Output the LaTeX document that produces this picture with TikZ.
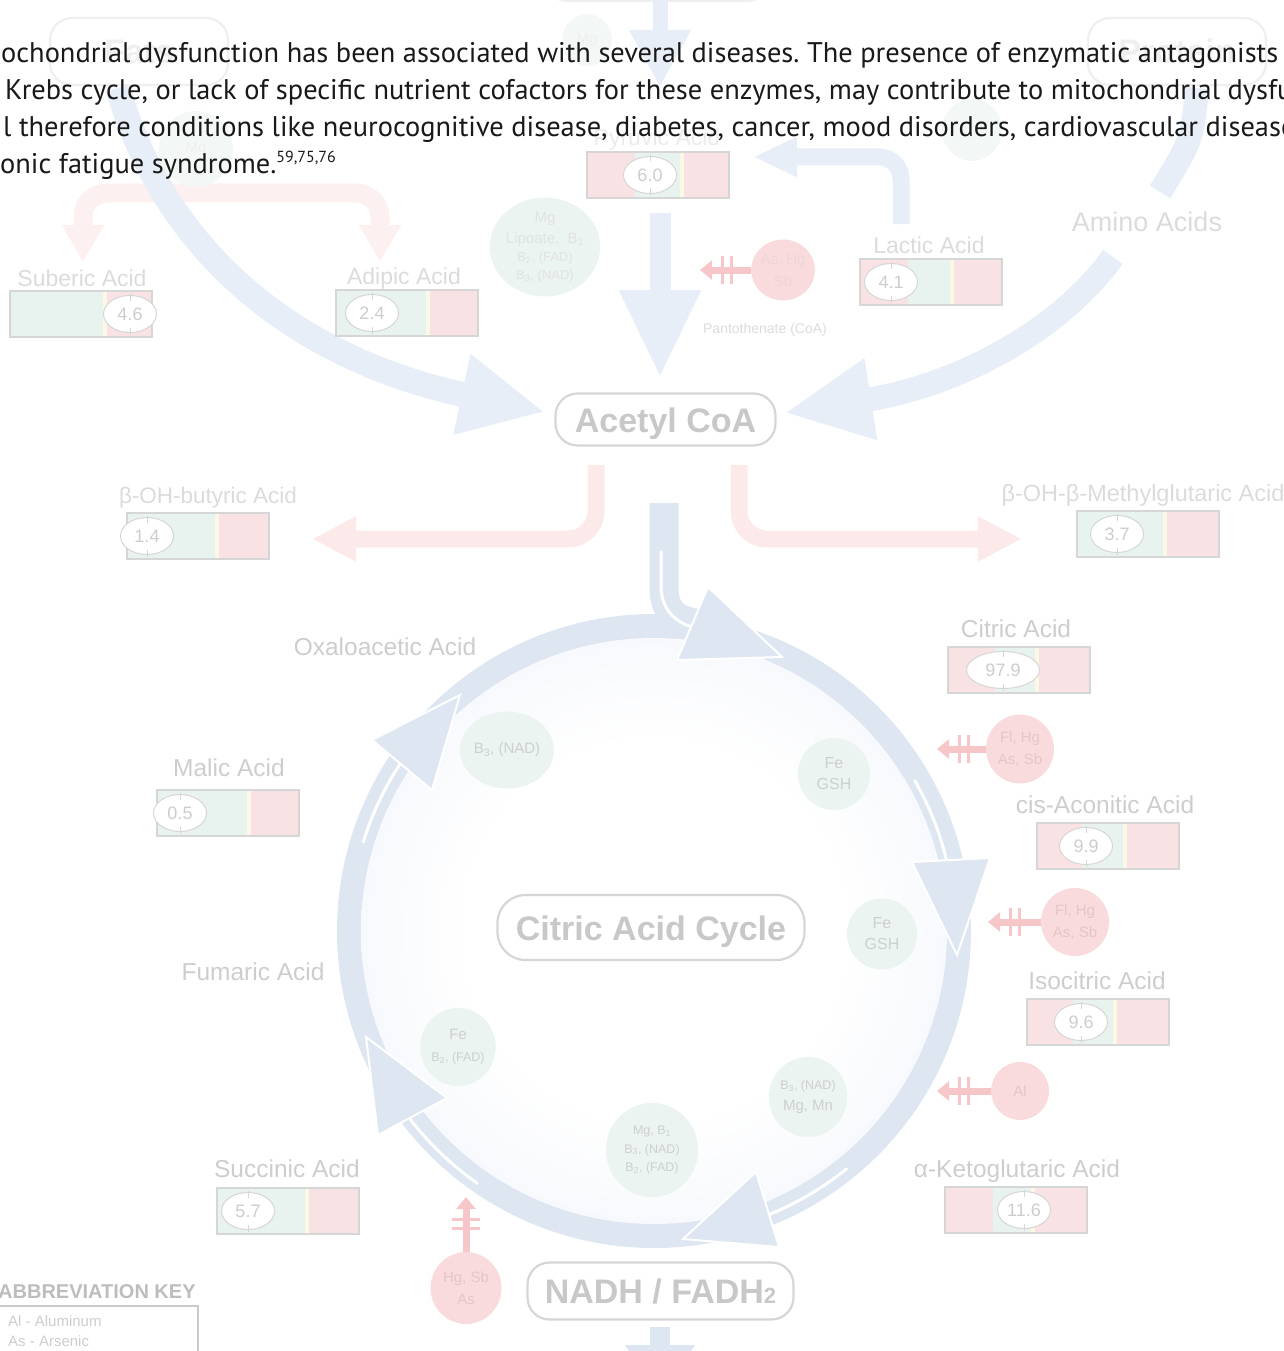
\documentclass[tikz,border=0pt]{standalone}
\usepackage{fontspec}
\setmainfont{Liberation Sans}
\newfontfamily\bodyfont{PT Sans}
\usetikzlibrary{arrows.meta,shapes.geometric}
\frenchspacing

\definecolor{labgray}{HTML}{CDCDCD}
\definecolor{palelab}{HTML}{DBDBDB}
\definecolor{headgray}{HTML}{C8C8C8}
\definecolor{boxline}{HTML}{D6D6D6}
\definecolor{toplight}{HTML}{EFEFEF}
\definecolor{ringblue}{HTML}{DEE6F2}
\definecolor{pathblue}{HTML}{E8EEF7}
\definecolor{pathpink}{HTML}{FCEAEB}
\definecolor{barpink}{HTML}{F9E2E3}
\definecolor{bargreen}{HTML}{E8F3F0}
\definecolor{barstrip}{HTML}{FBF8E6}
\definecolor{cofgreen}{HTML}{EBF4F1}
\definecolor{coftext}{HTML}{CFCFCF}
\definecolor{inhpink}{HTML}{FADBDD}
\definecolor{inhtext}{HTML}{E5C5C7}
\definecolor{inhred}{HTML}{F6C6C9}
\definecolor{cyclefill}{HTML}{E3E9F5}
\definecolor{keygray}{HTML}{BDBDBD}

\pgfdeclareradialshading{cycleglow}{\pgfpoint{0bp}{0bp}}{color(0bp)=(white); color(16bp)=(white); color(50bp)=(cyclefill)}

% value bar: name, top-left corner, green span, oval position, value
\def\acidbox#1(#2,#3)[#4:#5]#6#7{%
  \fill[barpink] (#2,#3) rectangle ++(142,46);
  \fill[bargreen] (#2+#4,#3) rectangle (#2+#5,#3+46);
  \fill[barstrip] (#2+#5,#3) rectangle (#2+#5+4,#3+46);
  \draw[boxline, line width=1.3pt] (#2,#3) rectangle ++(142,46);
  \node[valoval] (#1-v) at (#2+#6,#3+23) {#7};
  \draw[boxline, line width=0.8pt] (#2+#6,#3+2.5) -- ++(0,7) (#2+#6,#3+43.5) -- ++(0,-7);
}
% double bar across an inhibitor arrow, at its tip
\def\blockbars(#1)#2{\draw[blockbar, shift={(#1)}, rotate=#2] (22,-14) -- (22,14) (31,-14) -- (31,14);}

\begin{document}
\begin{tikzpicture}[x=1pt, y=-1pt,
  acidlabel/.style={anchor=base, text=labgray, inner sep=0pt, font=\fontsize{24.5}{28}\selectfont},
  valoval/.style={ellipse, draw=boxline, fill=white, line width=1pt, minimum width=53pt, minimum height=37pt, inner sep=0pt, text=labgray, font=\fontsize{18}{20}\selectfont},
  cofactor/.style={ellipse, fill=cofgreen, text=coftext, align=center, inner sep=0pt, font=\fontsize{15}{21}\selectfont},
  toxin/.style={ellipse, fill=inhpink, text=inhtext, align=center, inner sep=0pt, font=\fontsize{15}{22}\selectfont},
  header/.style={draw=boxline, line width=2.2pt, rounded corners=22pt, fill=white, text=headgray, inner sep=0pt, text height=25pt, text depth=0pt, font=\bfseries\fontsize{34}{40}\selectfont},
  blueway/.style={draw=pathblue, line width=#1},
  pinkway/.style={draw=pathpink, line width=17pt, rounded corners=28pt},
  block/.style={draw=inhred, line width=7pt, -{Triangle[length=12pt,width=19pt]}},
  blockbar/.style={draw=inhred, line width=3pt},
  ringtip/.style={fill=ringblue, draw=white, line width=2pt, line join=miter},
  glint/.style={draw=white, line width=3pt, line cap=round},
  bodytext/.style={anchor=base west, inner sep=0pt, text=black!90, font=\bodyfont\fontsize{28.4}{34}\selectfont}]
\useasboundingbox (0,0) rectangle (1284,1351);
\clip (0,0) rectangle (1284,1351);

%%%%% START %%%%%

% top row, faded under the text
\node[header, draw=toplight, text=toplight, minimum width=178pt, minimum height=67pt] (fats) at (139,51.5) {Fats};
\node[header, draw=toplight, text=toplight, minimum width=178pt, minimum height=67pt] (protein) at (1177,51.5) {Protein};
\draw[toplight, line width=2pt, rounded corners=22pt] (545,-70) rectangle (770,1);

\coordinate (glu-out) at (660,-30);
\coordinate (glu-tip) at (660,87);
\draw[blueway=15pt, -{Triangle[length=57pt,width=58pt]}] (glu-out) -- (glu-tip);
\node[cofactor, fill=cofgreen!60, text=toplight, minimum width=50pt, minimum height=52pt] (mg-top) at (587,40) {Mg};

% fatty acid side branches
\coordinate (sub-in) at (83,262);
\coordinate (adi-in) at (380,262);
\draw[pinkway, draw=pathpink!70!white, line width=19pt, rounded corners=24pt, {Triangle[length=37pt,width=40pt]}-{Triangle[length=37pt,width=40pt]}] (sub-in) -- (83,193) -- (380,193) -- (adi-in);

\coordinate (fats-out) at (118,88);
\coordinate (acetyl-left) at (545,412);
\draw[blueway=25pt, -{Triangle[length=85pt,width=76pt]}] (fats-out) .. controls (165,255) and (300,360) .. (acetyl-left);
\node[cofactor, fill=cofgreen!60, text=toplight, minimum width=74pt, minimum height=76pt] (mg-left) at (196,149) {Mg};

\coordinate (protein-out) at (1197,88);
\coordinate (amino-in) at (1160,192);
\draw[blueway=24pt] (protein-out) .. controls (1192,140) .. (amino-in);
\node[cofactor, fill=cofgreen!60, minimum width=60pt, minimum height=62pt] (mg-right) at (972,130) {};
\node[acidlabel, text=palelab, font=\fontsize{27}{30}\selectfont] (amino) at (1147,231) {Amino Acids};
\coordinate (amino-out) at (1113,257);
\coordinate (acetyl-right) at (784,413);
\draw[blueway=24pt, -{Triangle[length=88pt,width=76pt]}] (amino-out) .. controls (1060,330) and (960,385) .. (acetyl-right);

% pyruvic and lactic acid
\node[acidlabel, text=toplight!80!palelab, font=\fontsize{23}{28}\selectfont] (pyruvic) at (657,146) {Pyruvic Acid};
\acidbox{pyruvic}(587,152)[48:93]{63}{6.0}
\coordinate (lactic-up) at (901,224);
\coordinate (pyr-in) at (753,157);
\draw[blueway=17pt, rounded corners=22pt, -{Triangle[length=44pt,width=37pt]}] (lactic-up) |- (pyr-in);
\node[acidlabel, text=palelab, font=\fontsize{23}{28}\selectfont] (lactic) at (929,253) {Lactic Acid};
\acidbox{lactic}(860,259)[48:90]{31}{4.1}

\coordinate (pyr-out) at (660,213);
\coordinate (acetyl-top) at (660,378);
\draw[blueway=21pt, -{Triangle[length=88pt,width=76pt]}] (pyr-out) -- (acetyl-top);

\node[cofactor, minimum width=98pt, minimum height=98pt, text=coftext!60!white] (lipoate) at (545,247)
  {Mg\\Lipoate,\ \ B\textsubscript{1}\\[-3pt]{\fontsize{13}{18}\selectfont B\textsubscript{2}, (FAD)}\\[-3pt]{\fontsize{13}{18}\selectfont B\textsubscript{3}, (NAD)}};
\node[toxin, minimum width=61pt, minimum height=61pt, text=inhtext!70!white] (ashg) at (783,270) {As, Hg\\Sb};
\coordinate (ashg-tip) at (700,270);
\draw[block] (ashg) -- (ashg-tip);
\blockbars(ashg-tip){0}
\node[text=palelab, inner sep=0pt, font=\fontsize{14}{16}\selectfont] (coa) at (765,330) {Pantothenate (CoA)};

\node[acidlabel, text=palelab, font=\fontsize{23}{28}\selectfont] (suberic) at (82,286) {Suberic Acid};
\acidbox{suberic}(10,291)[0:93]{120}{4.6}
\node[acidlabel, text=palelab, font=\fontsize{23}{28}\selectfont] (adipic) at (404,284) {Adipic Acid};
\acidbox{adipic}(336,290)[0:90]{36}{2.4}

% acetyl CoA and ketone branches
\node[header, minimum width=220pt, minimum height=52pt] (acetyl) at (665.5,419.5) {Acetyl CoA};
\coordinate (acetyl-sw) at (596,465);
\coordinate (acetyl-se) at (739,465);
\coordinate (butyric-in) at (312,539);
\coordinate (hmg-in) at (1022,539);
\draw[pinkway, -{Triangle[length=44pt,width=42pt]}] (acetyl-sw) |- (butyric-in);
\draw[pinkway, -{Triangle[length=44pt,width=42pt]}] (acetyl-se) |- (hmg-in);
\node[acidlabel, font=\fontsize{22.5}{28}\selectfont, text=palelab] (butyric) at (208,503) {β-OH-butyric Acid};
\acidbox{butyric}(127,513)[0:88]{20}{1.4}
\node[acidlabel, font=\fontsize{23.5}{28}\selectfont, text=palelab] (hmg) at (1143,501) {β-OH-β-Methylglutaric Acid};
\acidbox{hmg}(1077,511)[0:86]{40}{3.7}

% the cycle
\coordinate (cyc) at (654,931);
\fill[ringblue] (cyc) circle (317);
\shade[shading=cycleglow] (cyc) circle (293);
\coordinate (cyc-entry) at (664,503);
\draw[ringblue, line width=29pt] (cyc-entry) -- (664,588) .. controls (664,612) and (676,621) .. (702,624);
\draw[glint] (661,552) -- (661,588) .. controls (662,610) and (676,624) .. (697,628);
\draw[glint] ([shift={(-163:304)}]cyc) arc[start angle=-163, end angle=-146, radius=304];
\draw[glint] ([shift={(-30:301)}]cyc) arc[start angle=-30, end angle=-10, radius=301];
\draw[glint] ([shift={(51:306)}]cyc) arc[start angle=51, end angle=68, radius=306];
\draw[glint] ([shift={(125:308)}]cyc) arc[start angle=125, end angle=144, radius=308];
\filldraw[ringtip] (708,587) -- (782,657) -- (677,660) -- cycle;
\filldraw[ringtip] (912,862) -- (990,858) -- (957,955) -- cycle;
\filldraw[ringtip] (756,1172) -- (779,1247) -- (683,1239) -- cycle;
\filldraw[ringtip] (447,1098) -- (378,1135) -- (366,1037) -- cycle;
\filldraw[ringtip] (372,740) -- (432,790) -- (460,695) -- cycle;
\node[header, minimum width=307pt, minimum height=65pt, rounded corners=28pt] (cycle) at (651,927.5) {Citric Acid Cycle};

% cofactors inside the ring
\node[cofactor, minimum width=74pt, minimum height=77pt] (b3nad) at (507,750) {B\textsubscript{3}, (NAD)};
\node[cofactor, minimum width=72pt, minimum height=72pt, font=\fontsize{16}{21}\selectfont] (fegsh-a) at (834,774) {Fe\\GSH};
\node[cofactor, minimum width=70pt, minimum height=71pt, font=\fontsize{16}{21}\selectfont] (fegsh-b) at (882,934) {Fe\\GSH};
\node[cofactor, minimum width=78pt, minimum height=80pt] (mgmn) at (808,1097) {{\fontsize{12.5}{16}\selectfont B\textsubscript{3}, (NAD)}\\Mg, Mn};
\node[cofactor, minimum width=92pt, minimum height=94pt, font=\fontsize{12.5}{18.5}\selectfont] (mgb1) at (652,1150) {Mg, B\textsubscript{1}\\B\textsubscript{3}, (NAD)\\B\textsubscript{2}, (FAD)};
\node[cofactor, minimum width=75pt, minimum height=78pt] (feb2) at (458,1047) {Fe\\[1pt]{\fontsize{12.5}{16}\selectfont B\textsubscript{2}, (FAD)}};

% acids round the cycle
\node[acidlabel] (oxalo) at (385,655) {Oxaloacetic Acid};
\node[acidlabel] (malic) at (229,776) {Malic Acid};
\acidbox{malic}(157,790)[0:90]{23}{0.5}
\node[acidlabel] (fumaric) at (253,980) {Fumaric Acid};
\node[acidlabel] (succinic) at (287,1177) {Succinic Acid};
\acidbox{succinic}(217,1188)[0:88]{31}{5.7}
\node[acidlabel] (citric) at (1016,637) {Citric Acid};
\begin{scope}[valoval/.append style={minimum width=73pt}]
\acidbox{citric}(948,647)[47:87]{55}{97.9}
\end{scope}
\node[acidlabel] (aconitic) at (1105,813) {cis-Aconitic Acid};
\acidbox{aconitic}(1037,823)[45:86]{49}{9.9}
\node[acidlabel] (isocitric) at (1097,989) {Isocitric Acid};
\acidbox{isocitric}(1027,999)[46:86]{54}{9.6}
\node[acidlabel] (ketoglut) at (1017,1177) {α-Ketoglutaric Acid};
\acidbox{ketoglut}(945,1187)[48:86]{79}{11.6}

% inhibitors
\node[toxin, minimum width=68pt, minimum height=69pt] (flhg-a) at (1020,749) {Fl, Hg\\As, Sb};
\coordinate (flhg-a-tip) at (937,749);
\draw[block] (flhg-a) -- (flhg-a-tip);
\blockbars(flhg-a-tip){0}
\node[toxin, minimum width=68pt, minimum height=68pt] (flhg-b) at (1075,922) {Fl, Hg\\As, Sb};
\coordinate (flhg-b-tip) at (988,922);
\draw[block] (flhg-b) -- (flhg-b-tip);
\blockbars(flhg-b-tip){0}
\node[toxin, minimum width=58pt, minimum height=58pt] (al) at (1020,1091) {Al};
\coordinate (al-tip) at (937,1091);
\draw[block] (al) -- (al-tip);
\blockbars(al-tip){0}
\node[toxin, minimum width=71pt, minimum height=72pt] (hgsb) at (466,1288) {Hg, Sb\\As};
\coordinate (hgsb-tip) at (466,1197);
\draw[block] (hgsb) -- (hgsb-tip);
\blockbars(hgsb-tip){-90}

% electron carriers
\node[header, minimum width=266pt, minimum height=57pt] (nadh) at (660.5,1291) {NADH / FADH{\fontsize{22}{22}\selectfont 2}};
\coordinate (nadh-down) at (660,1327);
\coordinate (nadh-out) at (660,1400);
\draw[blueway=20pt, draw=ringblue, -{Triangle[length=55pt,width=66pt]}] (nadh-down) -- (nadh-out);

% abbreviation key
\node[anchor=base west, inner sep=0pt, text=keygray, font=\bfseries\fontsize{20}{24}\selectfont] (keyhead) at (-2,1298) {ABBREVIATION KEY};
\draw[keygray!80!white, line width=1.5pt] (-10,1306) -- (198,1306) -- (198,1370);
\node[anchor=base west, inner sep=0pt, text=labgray, font=\fontsize{15}{18}\selectfont] (key-al) at (8,1326) {Al - Aluminum};
\node[anchor=base west, inner sep=0pt, text=labgray, font=\fontsize{15}{18}\selectfont] (key-as) at (8,1346) {As - Arsenic};

% caption text over the top
\node[bodytext] (line-a) at (1,63) {ochondrial dysfunction has been associated with several diseases. The presence of enzymatic antagonists};
\node[bodytext] (line-b) at (5,100) {Krebs cycle, or lack of specific nutrient cofactors for these enzymes, may contribute to mitochondrial dysfu};
\node[bodytext] (line-c) at (3,137) {l therefore conditions like neurocognitive disease, diabetes, cancer, mood disorders, cardiovascular disease};
\node[bodytext] (line-d) at (0,174) {onic fatigue syndrome.\raisebox{11pt}{\fontsize{16}{16}\selectfont 59,75,76}};

%%%%% END %%%%%
\end{tikzpicture}
\end{document}
